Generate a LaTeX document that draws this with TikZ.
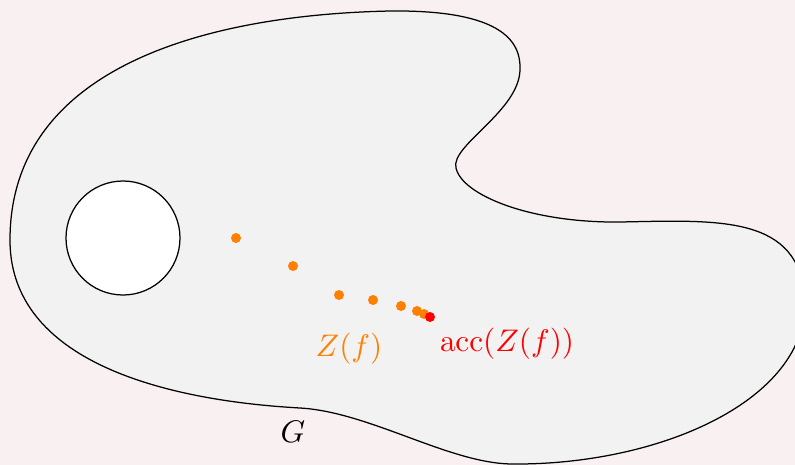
\documentclass[tikz,border=0pt]{standalone}
\usepackage{amsmath}
\usepackage{tikz}
\usetikzlibrary{positioning}
\definecolor{bgpink}{RGB}{249,240,241}
\definecolor{regiongray}{RGB}{242,242,242}
\definecolor{zorange}{RGB}{255,128,0}
\DeclareMathOperator{\acc}{acc}

\begin{document}
\begin{tikzpicture}[x=0.32pt, y=-0.32pt,
    zero/.style={circle, fill=zorange, inner sep=0pt, minimum size=3.2pt},
    limit/.style={circle, fill=red, inner sep=0pt, minimum size=3.2pt}]
        \fill[bgpink] (0,0) rectangle (795,465);
        \useasboundingbox (0,0) rectangle (795,465);

        % the region G
        \draw[fill=regiongray] (10,240)
            .. controls (10,70) and (200,15) .. (390,11)
            .. controls (480,10) and (520,30) .. (520,67)
            .. controls (522,110) and (450,145) .. (456,168)
            .. controls (462,195) and (530,223) .. (620,222)
            .. controls (720,220) and (800,215) .. (805,300)
            .. controls (808,400) and (660,465) .. (513,464)
            .. controls (450,464) and (370,412) .. (300,408)
            .. controls (230,404) and (10,385) .. cycle;
        \draw[fill=white] (123,238) circle (57);

        \path
        (236,238) coordinate (1)
        (293,266) coordinate (2)
        (339,295) coordinate (3)
        (373,300) coordinate (4)
        (401,306) coordinate (5)
        (417,311) coordinate (6)
        (424,314) coordinate (7)
        (430,317) coordinate (8)
        ;

        \draw
        (1) node[zero] (z1) {}
        (2) node[zero] (z2) {}
        (3) node[zero] (z3) {}
        (4) node[zero] (z4) {}
        (5) node[zero] (z5) {}
        (6) node[zero] (z6) {}
        (7) node[zero] (z7) {}
        (8) node[limit] (a) {}
        ;

        \node[zorange] (zf) at (349,349) {$Z(f)$};
        \node[red] (accz) at (507,344) {$\acc(Z(f))$};
        \node (g) at (293,432) {$G$};
\end{tikzpicture}
\end{document}
